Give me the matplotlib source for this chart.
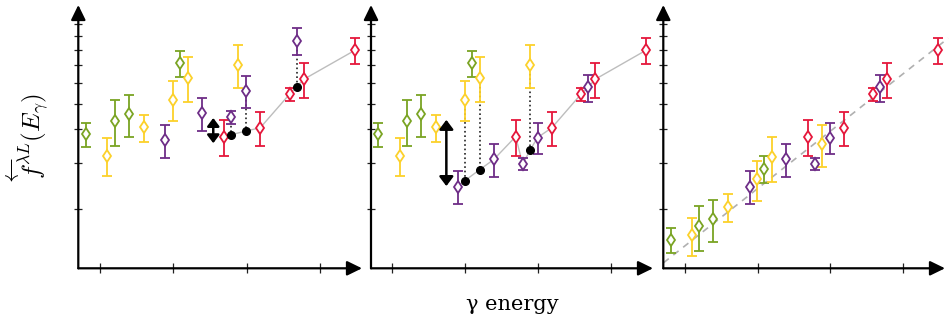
import numpy as np
import matplotlib
matplotlib.use("Agg")
import matplotlib.pyplot as plt
from matplotlib.ticker import FixedLocator, NullLocator

plt.rcParams['mathtext.fontset'] = 'cm'

# measured data (arbitrary units), as in the first panel
green_x = [0.805, 1.20, 1.394, 2.095]
green_y = [3.84, 4.32, 4.58, 7.11]
green_err = [0.41, 0.84, 0.83, 0.81]

yellow_x = [1.097, 1.596, 1.99, 2.196, 2.89]
yellow_y = [3.19, 4.07, 5.18, 6.28, 7.03]
yellow_err = [0.53, 0.48, 0.89, 1.21, 1.28]

purple_x = [1.893, 2.39, 2.787, 2.99, 3.684]
purple_y = [3.65, 4.62, 4.44, 5.59, 8.65]
purple_err = [0.52, 0.66, 0.24, 0.75, 1.02]

red_x = [2.69, 3.187, 3.588, 3.783, 4.485]
red_y = [3.76, 4.06, 5.44, 6.19, 7.98]
red_err = [0.57, 0.61, 0.32, 0.95, 0.91]

# normalisation factors applied in the later panels
norm_purple = 0.667
norm_yellow = 0.5
norm_green = 0.4

# reference values at the energies of the set being matched
dots1_x = [2.787, 2.99, 3.684]
dots1_y = [3.82, 3.945, 5.81]
dots2_x = [1.99, 2.196, 2.89]
dots2_y = [2.56, 2.82, 3.35]

# shift arrows (x, y_top, y_bottom)
shift1 = (2.546, 4.42, 3.55)
shift2 = (1.739, 4.35, 2.445)

# fitted trend in the last panel
trend_x = [0.708, 4.619]
trend_y = [1.256, 8.84]

C_GREEN = '#7aa423'
C_YELLOW = '#fcd12a'
C_PURPLE = '#6e2d87'
C_RED = '#e5173b'


def draw_set(ax, x, y, err, color, scale=1.0):
    y = np.array(y) * scale
    e = np.array(err) * scale
    ax.errorbar(x, y, yerr=e, fmt='d', color=color, mfc='white', mec=color,
                ms=6.5, mew=1.3, elinewidth=1.3, capsize=3.4, capthick=1.3, zorder=4)


def setup_axes(ax):
    ax.set_yscale('log')
    ax.set_xlim(0.705, 4.575)
    ax.set_ylim(1.197, 11.8)
    for s in ax.spines.values():
        s.set_visible(False)
    ax.xaxis.set_major_locator(FixedLocator([1, 2, 3, 4]))
    ax.yaxis.set_major_locator(FixedLocator([2, 3, 4, 5, 6, 7, 8, 9, 10]))
    ax.yaxis.set_minor_locator(NullLocator())
    ax.xaxis.set_minor_locator(NullLocator())
    ax.tick_params(axis='x', direction='inout', length=7, width=0.9, color='#222222',
                   labelbottom=False)
    ax.tick_params(axis='y', direction='inout', length=6, width=0.9, color='#222222',
                   labelleft=False)
    arrow = dict(arrowstyle='-|>,head_length=0.45,head_width=0.22', color='black',
                 lw=1.6, shrinkA=0, shrinkB=0, mutation_scale=20)
    ax.annotate('', xy=(1, 0), xytext=(0, 0), xycoords='axes fraction',
                arrowprops=arrow, annotation_clip=False)
    ax.annotate('', xy=(0, 1), xytext=(0, 0), xycoords='axes fraction',
                arrowprops=arrow, annotation_clip=False)


def shift_arrow(ax, s, scale):
    ax.annotate('', xy=(s[0], s[1]), xytext=(s[0], s[2]),
                arrowprops=dict(arrowstyle='<|-|>,head_length=0.4,head_width=0.3',
                                color='black', lw=1.8, shrinkA=0, shrinkB=0,
                                mutation_scale=scale), zorder=6)


W, H = 952, 326
fig = plt.figure(figsize=(W / 100, H / 100), dpi=100)
lefts = [78.3, 371, 663.3]
widths = [283.7, 282, 281.7]
axes = [fig.add_axes([l / W, (H - 268.3) / H, w / W, 263.3 / H]) for l, w in zip(lefts, widths)]
for ax in axes:
    setup_axes(ax)

# panel 1: raw data, purple set matched against red
ax = axes[0]
lx = np.concatenate([red_x, dots1_x])
ly = np.concatenate([red_y, dots1_y])
o = np.argsort(lx)
ax.plot(lx[o], ly[o], color='#bdbdbd', lw=1, zorder=1)
for xp, yp, xd, yd in zip(purple_x[2:], purple_y[2:], dots1_x, dots1_y):
    ax.plot([xp, xd], [yp, yd], ls=':', color='#222222', lw=1.2, zorder=2)
draw_set(ax, green_x, green_y, green_err, C_GREEN)
draw_set(ax, yellow_x, yellow_y, yellow_err, C_YELLOW)
draw_set(ax, purple_x, purple_y, purple_err, C_PURPLE)
draw_set(ax, red_x, red_y, red_err, C_RED)
ax.plot(dots1_x, dots1_y, 'o', color='black', ms=5.5, zorder=5)
shift_arrow(ax, shift1, 12)

# panel 2: purple normalised, yellow matched against red + purple
ax = axes[1]
lx = np.concatenate([red_x, purple_x, dots2_x])
ly = np.concatenate([red_y, np.array(purple_y) * norm_purple, dots2_y])
o = np.argsort(lx)
ax.plot(lx[o], ly[o], color='#bdbdbd', lw=1, zorder=1)
for xp, yp, xd, yd in zip(yellow_x[2:], yellow_y[2:], dots2_x, dots2_y):
    ax.plot([xp, xd], [yp, yd], ls=':', color='#222222', lw=1.2, zorder=2)
draw_set(ax, green_x, green_y, green_err, C_GREEN)
draw_set(ax, yellow_x, yellow_y, yellow_err, C_YELLOW)
draw_set(ax, purple_x, purple_y, purple_err, C_PURPLE, norm_purple)
draw_set(ax, red_x, red_y, red_err, C_RED)
ax.plot(dots2_x, dots2_y, 'o', color='black', ms=5.5, zorder=5)
shift_arrow(ax, shift2, 14)

# panel 3: everything normalised
ax = axes[2]
ax.plot(trend_x, trend_y, ls=(0, (4, 3.5)), color='#b0b0b0', lw=1.2, zorder=1, clip_on=False)
draw_set(ax, green_x, green_y, green_err, C_GREEN, norm_green)
draw_set(ax, yellow_x, yellow_y, yellow_err, C_YELLOW, norm_yellow)
draw_set(ax, purple_x, purple_y, purple_err, C_PURPLE, norm_purple)
draw_set(ax, red_x, red_y, red_err, C_RED)

fig.text(27 / W, 1 - 137 / H, r'$\overleftarrow{f}^{\lambda L}(E_\gamma)$',
         rotation=90, ha='center', va='center', fontsize=18)
fig.text(512 / W, 1 - 304 / H, 'γ energy', ha='center', va='center',
         fontsize=15, family='DejaVu Serif')

fig.savefig('out.png', dpi=100)
